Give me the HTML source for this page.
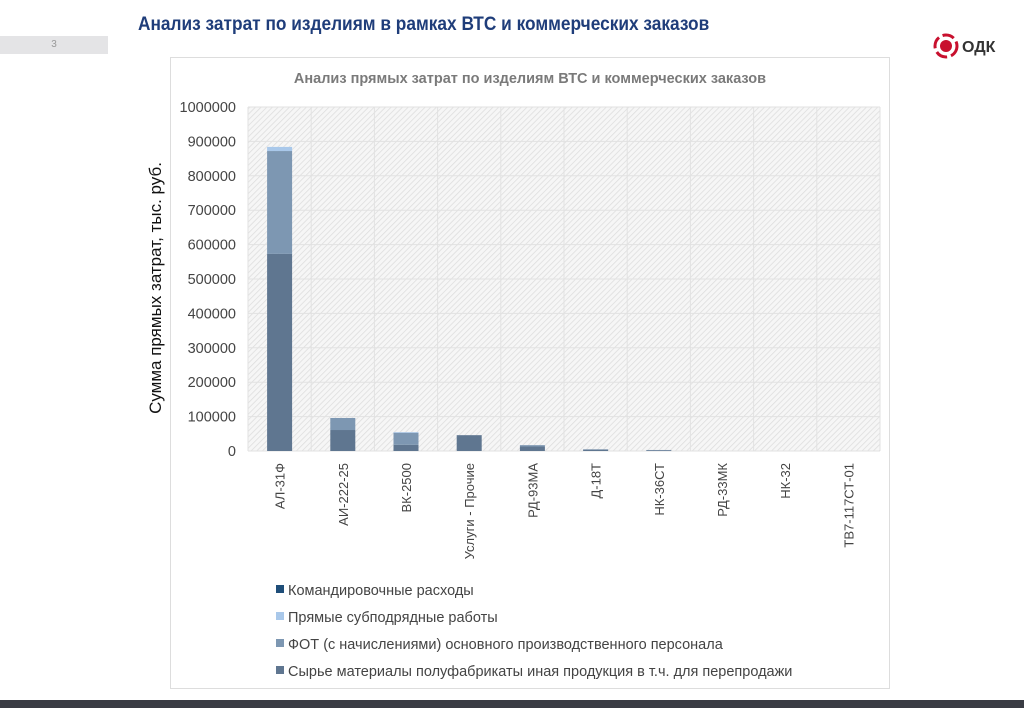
<!DOCTYPE html>
<html><head><meta charset="utf-8"><style>
body{margin:0;width:1024px;height:708px;background:#fff;position:relative;overflow:hidden;font-family:"Liberation Sans","Noto Sans CJK SC",sans-serif}
.abs{position:absolute}
</style></head><body>
<div class="abs" style="left:138px;top:14px;font-size:19px;font-weight:bold;color:#1f3d7a;transform:scaleX(0.91);transform-origin:left;white-space:nowrap">Анализ затрат по изделиям в рамках ВТС и коммерческих заказов</div>
<div class="abs" style="left:0;top:36px;width:108px;height:18px;background:#e4e4e6;color:#999;font-size:10px;text-align:center;line-height:18px">3</div>
<div class="abs" style="left:932px;top:32px;width:90px;height:28px">
<svg width="90" height="28"><circle cx="14" cy="14" r="11" fill="none" stroke="#c8102e" stroke-width="3" stroke-dasharray="12 4"/><circle cx="14" cy="14" r="6" fill="#c8102e"/><text x="30" y="20" font-size="16" font-weight="bold" fill="#333" font-family="Liberation Sans">ОДК</text></svg></div>
<div class="abs" style="left:170px;top:57px;width:720px;height:632px;border:1px solid #ddd;box-sizing:border-box"></div>
<div class="abs" style="left:0;top:700px;width:1024px;height:8px;background:#3a3c44"></div>
<svg class="abs" id="chart" style="left:0;top:0" width="1024" height="708">
<defs><pattern id="hatch" width="4" height="4" patternUnits="userSpaceOnUse" patternTransform="rotate(45)"><rect width="4" height="4" fill="#f6f6f6"/><line x1="0" y1="0" x2="0" y2="4" stroke="#dcdcdc" stroke-width="1.5"/></pattern></defs>
<text x="530" y="83" text-anchor="middle" font-size="14.5" font-weight="bold" fill="#7a7a7a">Анализ прямых затрат по изделиям ВТС и коммерческих заказов</text>
<text transform="translate(161,288) rotate(-90)" text-anchor="middle" font-size="17" fill="#111">Сумма прямых затрат, тыс. руб.</text>
<g id="g"></g>
</svg>
<script>
const categories=["АЛ-31Ф","АИ-222-25","ВК-2500","Услуги - Прочие","РД-93МА","Д-18Т","НК-36СТ","РД-33МК","НК-32","ТВ7-117СТ-01"];
const raw=[573000,61000,18000,46000,13000,4000,2000,0,0,0];
const fot=[299000,35000,35000,0,4000,1000,1000,0,0,0];
const sub=[12000,0,2000,0,0,0,0,0,0,0];
const trips=[0,0,0,0,0,0,0,0,0,0];
const yTicks=[0,100000,200000,300000,400000,500000,600000,700000,800000,900000,1000000];
const seriesNames=["Командировочные расходы","Прямые субподрядные работы","ФОТ (с начислениями) основного производственного персонала","Сырье материалы полуфабрикаты иная продукция в т.ч. для перепродажи"];
const colors={raw:"#5f7690",fot:"#7d97b2",sub:"#a9c8ea",trips:"#1f4e79"};
const X0=248,X1=880,Y0=451,Y1=107;
const y=v=>Y0-(v/1000000)*(Y0-Y1);
const bw=(X1-X0)/categories.length;
const x=i=>X0+bw*i;
const NS="http://www.w3.org/2000/svg";
const g=document.getElementById('g');
function mk(t,a){const e=document.createElementNS(NS,t);for(const k in a)e.setAttribute(k,a[k]);g.appendChild(e);return e;}
let bg=mk('rect',{x:X0,y:Y1,width:X1-X0,height:Y0-Y1,fill:'url(#hatch)'});


yTicks.forEach(v=>{let l=mk('line',{x1:X0,x2:X1,y1:y(v),y2:y(v),stroke:'#e2e2e2'});


let t=mk('text',{x:X0-12,y:y(v)+5,'text-anchor':'end','font-size':14.5,fill:'#444'});t.textContent=v;

});
for(let i=0;i<=categories.length;i++){let l=mk('line',{x1:x(i),x2:x(i),y1:Y1,y2:Y0,stroke:'#e2e2e2'});

}
categories.forEach((c,i)=>{
 let cx=x(i)+bw/2,w=25,acc=0;
 [['raw',raw],['fot',fot],['sub',sub],['trips',trips]].forEach(([k,arr])=>{
  const v=arr[i];if(v<=0)return;
  let r=mk('rect',{x:cx-w/2,y:y(acc+v),width:w,height:y(acc)-y(acc+v),fill:colors[k]});
  
  
  acc+=v;});
 let t=mk('text',{transform:`translate(${cx+5},${Y0+12}) rotate(-90)`,'text-anchor':'end','font-size':13,fill:'#444'});t.textContent=c;
 
 
});
const lc=[colors.trips,colors.sub,colors.fot,colors.raw];
seriesNames.forEach((n,i)=>{const yy=590+i*27;
 let r=mk('rect',{x:276,y:yy-5,width:8,height:8,fill:lc[i]});
 
 
 let t=mk('text',{x:288,y:yy+5,'font-size':14.5,fill:'#444'});t.textContent=n;
 
 });
</script>
</body></html>
